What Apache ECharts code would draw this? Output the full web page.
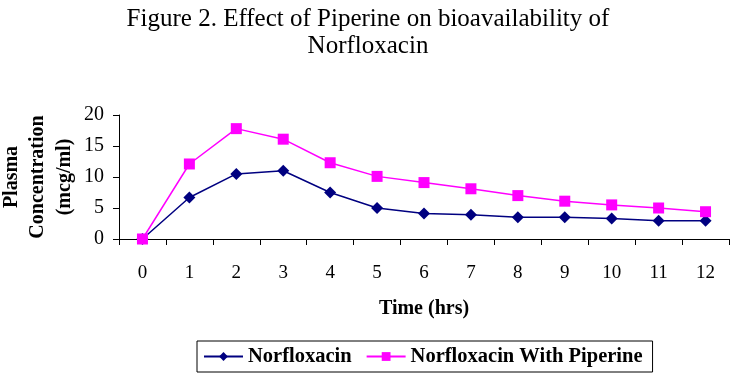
<!DOCTYPE html>
<html><head><meta charset="utf-8">
<script src="https://cdn.jsdelivr.net/npm/echarts@6/dist/echarts.min.js"></script>
<style>html,body{margin:0;padding:0;background:#fff}#c{width:736px;height:380px}</style>
</head><body><div id="c"></div>
<script>
const hours = ['0','1','2','3','4','5','6','7','8','9','10','11','12'];
const norfloxacin = [0, 6.7, 10.5, 11.0, 7.5, 5.0, 4.1, 3.9, 3.5, 3.5, 3.3, 2.95, 2.95];
const withPiperine = [0, 12.1, 17.8, 16.1, 12.3, 10.1, 9.1, 8.1, 7.0, 6.1, 5.5, 5.0, 4.4];
const yTicks = [0, 5, 10, 15, 20];

const serif = '"Liberation Serif","Times New Roman",serif';
const chart = echarts.init(document.getElementById('c'));
chart.setOption({
  animation: false,
  backgroundColor: '#fff',
  title: {
    text: 'Figure 2. Effect of Piperine on bioavailability of\nNorfloxacin',
    left: 'center', top: 1,
    textStyle: { fontFamily: serif, fontSize: 25, fontWeight: 'normal', color: '#000', lineHeight: 27 }
  },
  graphic: [{
    type: 'text', x: 38, y: 177, rotation: Math.PI / 2,
    style: {
      text: 'Plasma\nConcentration\n(mcg/ml)', align: 'center', verticalAlign: 'middle',
      font: 'bold 20px ' + serif, lineHeight: 26.5, fill: '#000'
    }
  }],
  legend: {
    data: ['Norfloxacin', 'Norfloxacin With Piperine'],
    left: 197, top: 341, itemWidth: 39, itemHeight: 11, itemGap: 14,
    borderColor: '#000', borderWidth: 1, padding: [5, 10, 5, 6],
    textStyle: { fontFamily: serif, fontSize: 20.5, fontWeight: 'bold', color: '#000' }
  },
  grid: { left: 119, right: 7, top: 115, bottom: 141 },
  xAxis: {
    type: 'category', data: hours, boundaryGap: true,
    name: 'Time (hrs)', nameLocation: 'middle', nameGap: 60,
    nameTextStyle: { fontFamily: serif, fontSize: 20, fontWeight: 'bold', color: '#000' },
    axisLine: { lineStyle: { color: '#000', width: 1 } },
    axisTick: { show: true, length: 6, inside: false, alignWithLabel: false, lineStyle: { color: '#000' } },
    axisLabel: { fontFamily: serif, fontSize: 19, color: '#000', margin: 25 }
  },
  yAxis: {
    type: 'value', min: yTicks[0], max: yTicks[yTicks.length - 1], interval: 5,
    axisLine: { show: true, lineStyle: { color: '#000', width: 1 } },
    axisTick: { show: true, length: 6, lineStyle: { color: '#000' } },
    splitLine: { show: false },
    axisLabel: { fontFamily: serif, fontSize: 20, color: '#000', margin: 15 }
  },
  series: [{
    name: 'Norfloxacin', type: 'line', data: norfloxacin,
    symbol: 'diamond', symbolSize: 12, color: '#000080',
    lineStyle: { color: '#000080', width: 1.5 },
    itemStyle: { color: '#000080' }
  }, {
    name: 'Norfloxacin With Piperine', type: 'line', data: withPiperine,
    symbol: 'rect', symbolSize: 11, color: '#FF00FF',
    lineStyle: { color: '#FF00FF', width: 1.5 },
    itemStyle: { color: '#FF00FF' }
  }]
});
</script></body></html>
